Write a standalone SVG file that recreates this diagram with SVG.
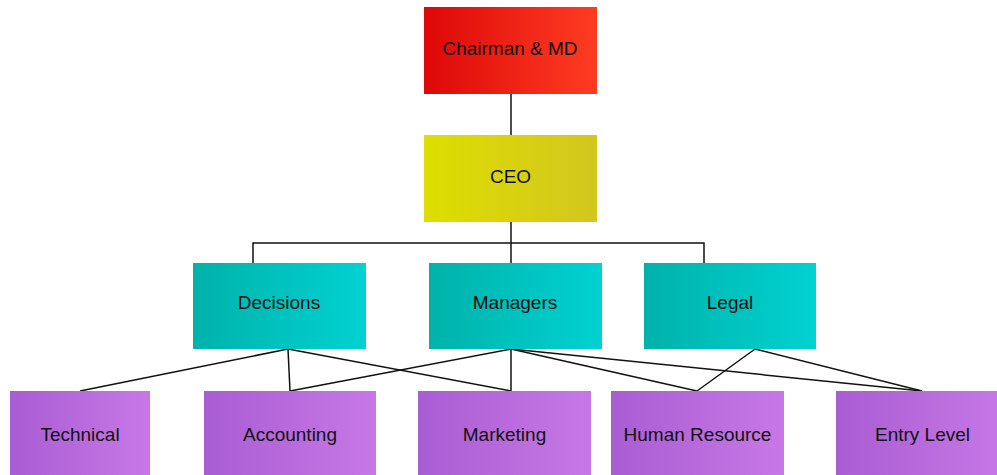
<svg xmlns="http://www.w3.org/2000/svg" width="997" height="475" viewBox="0 0 997 475">
<defs>
<linearGradient id="gRed" x1="0" y1="0" x2="1" y2="0"><stop offset="0" stop-color="#dd0808"/><stop offset="1" stop-color="#ff3c22"/></linearGradient>
<linearGradient id="gYel" x1="0" y1="0" x2="1" y2="0"><stop offset="0" stop-color="#dede00"/><stop offset="1" stop-color="#d2c620"/></linearGradient>
<linearGradient id="gTeal" x1="0" y1="0" x2="1" y2="0"><stop offset="0" stop-color="#00b2aa"/><stop offset="1" stop-color="#00d2d2"/></linearGradient>
<linearGradient id="gPur" x1="0" y1="0" x2="1" y2="0"><stop offset="0" stop-color="#a95dd3"/><stop offset="1" stop-color="#c878e6"/></linearGradient>
<style>
text{font-family:"Liberation Sans",Arial,sans-serif;font-size:19px;fill:#111;text-anchor:middle}
.c{fill:none;stroke:#111;stroke-width:1.5}
</style>
</defs>
<g id="connectors">
<line class="c" x1="511" y1="94" x2="511" y2="135"/>
<polyline class="c" points="511,221 511,243"/>
<polyline class="c" points="253,263 253,243 704,243 704,263"/>
<line class="c" x1="511" y1="243" x2="511" y2="263"/>
<line class="c" x1="288" y1="349" x2="80" y2="391"/>
<line class="c" x1="288" y1="349" x2="290" y2="391"/>
<line class="c" x1="288" y1="349" x2="511" y2="391"/>
<line class="c" x1="511" y1="349" x2="290" y2="391"/>
<line class="c" x1="511" y1="349" x2="511" y2="391"/>
<line class="c" x1="511" y1="349" x2="697" y2="391"/>
<line class="c" x1="511" y1="349" x2="922" y2="391"/>
<line class="c" x1="755" y1="349" x2="697" y2="391"/>
<line class="c" x1="755" y1="349" x2="922" y2="391"/>
</g>
<g id="chairman"><rect x="424" y="7" width="173" height="87" fill="url(#gRed)"/><text x="510" y="55">Chairman &amp; MD</text></g>
<g id="ceo"><rect x="424" y="135" width="173" height="87" fill="url(#gYel)"/><text x="510.5" y="183">CEO</text></g>
<g id="decisions"><rect x="193" y="263" width="173" height="86" fill="url(#gTeal)"/><text x="279" y="309">Decisions</text></g>
<g id="managers"><rect x="429" y="263" width="173" height="86" fill="url(#gTeal)"/><text x="515" y="309">Managers</text></g>
<g id="legal"><rect x="644" y="263" width="172" height="86" fill="url(#gTeal)"/><text x="730" y="309">Legal</text></g>
<g id="technical"><rect x="10" y="391" width="140" height="84" fill="url(#gPur)"/><text x="80" y="441">Technical</text></g>
<g id="accounting"><rect x="204" y="391" width="172" height="84" fill="url(#gPur)"/><text x="290" y="441">Accounting</text></g>
<g id="marketing"><rect x="418" y="391" width="173" height="84" fill="url(#gPur)"/><text x="504.5" y="441">Marketing</text></g>
<g id="hr"><rect x="611" y="391" width="173" height="84" fill="url(#gPur)"/><text x="697.5" y="441">Human Resource</text></g>
<g id="entry"><rect x="836" y="391" width="172" height="84" fill="url(#gPur)"/><text x="922.5" y="441">Entry Level</text></g>
</svg>
